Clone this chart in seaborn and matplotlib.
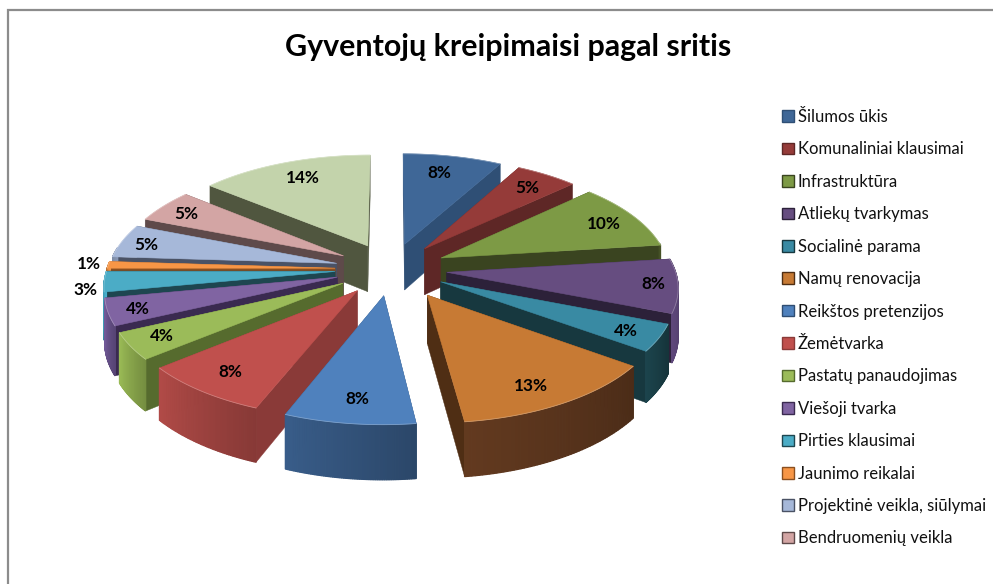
import numpy as np
import matplotlib
matplotlib.use("Agg")
import matplotlib.pyplot as plt
from matplotlib.colors import to_rgb
from matplotlib.patches import Patch
import seaborn as sns

categories = ["Šilumos ūkis", "Komunaliniai klausimai", "Infrastruktūra", "Atliekų tvarkymas",
              "Socialinė parama", "Namų renovacija", "Reikštos pretenzijos", "Žemėtvarka",
              "Pastatų panaudojimas", "Viešoji tvarka", "Pirties klausimai", "Jaunimo reikalai",
              "Projektinė veikla, siūlymai", "Bendruomenių veikla"]
values = [8, 5, 10, 8, 4, 13, 8, 8, 4, 4, 3, 1, 5, 5, 14]
title = "Gyventojų kreipimaisi pagal sritis"

top_colors = ["#3F6797", "#953B39", "#7D9A45", "#664D80", "#398AA3", "#C77A34", "#4F81BD",
              "#C0504D", "#9BBB59", "#8064A2", "#4BACC6", "#F79646", "#A6B8D9", "#D3A5A4", "#C3D3AB"]
radial_colors = ["#2F4F75", "#5E2726", "#3A4420", "#2C2139", "#17383F", "#4F2E14", "#2F4D72",
                 "#8A3A38", "#566B2E", "#3A2A50", "#1E4650", "#8B4F1F", "#4A5265", "#5E4A4A", "#50563F"]
outer_colors = ["#2F4F75", "#5E2726", "#3A4420", "#4E3B66", "#17383F", "#52301A", "#2F4D72",
                "#933E3B", "#7F9A46", "#5E4A7E", "#3C93AB", "#C97A38", "#8796B3", "#AD8887", "#A0AE8C"]

sns.set_theme(style="white")
plt.rcParams["font.family"] = ["Lato", "DejaVu Sans"]

cx, cy = 391, 269   # pie centre
R = 228             # radius
expl = 56           # explosion
tilt = 0.468
persp = 0.00052
depth = 47
# the orange slice sits a bit further out than the others
slice_shift = {5: (7, 3)}
label_r = [0.62, 0.62, 0.72, 0.88, 0.88, 0.62, 0.62, 0.62, 0.82, 0.85, 1.12, 1.12, 0.85, 0.85, 0.62]
label_shift = [(4, -15), (24, -13), (23, -3), (3, 0), (-6, 0), (23, 27), (-6, 28), (-34, 22),
               (-9, 2), (-6, 2), (9, 7), (8, 0), (-8, 1), (-3, 1), (-11, -15)]


def proj(x, y):
    s = 1 / (1 + persp * y)
    return cx + x * s, cy - y * tilt * s, s


fig = plt.figure(figsize=(9.93, 5.84), dpi=100)
ax = fig.add_axes([0, 0, 1, 1])
ax.set_xlim(0, 993)
ax.set_ylim(584, 0)
ax.axis("off")

# frame of the screenshot, only top and left
ax.plot([7.5, 7.5, 993], [584, 10, 10], color="#8C8C8C", lw=1.6, solid_joinstyle="miter")

frac = np.cumsum([0] + values) / sum(values) * 2 * np.pi
mids = (frac[:-1] + frac[1:]) / 2
order = np.argsort(-np.cos(mids))

for z, i in enumerate(order):
    a0, a1 = frac[i], frac[i + 1]
    ox, oy = expl * np.sin(mids[i]), expl * np.cos(mids[i])
    th = np.linspace(a0, a1, 60)
    xs, ys, ss = proj(ox + R * np.sin(th), oy + R * np.cos(th))
    ap_x, ap_y, ap_s = proj(ox, oy)
    dx, dy = slice_shift.get(i, (0, 0))
    xs, ys, ap_x, ap_y = xs + dx, ys + dy, ap_x + dx, ap_y + dy

    # the two cut faces
    for k in (0, -1):
        ax.fill([ap_x, xs[k], xs[k], ap_x], [ap_y, ys[k], ys[k] + depth * ss[k], ap_y + depth * ap_s],
                color=radial_colors[i], lw=0.3, zorder=z * 3 + 1)
    # the rim, in strips so that it can lighten along the arc
    base = np.array(to_rgb(outer_colors[i]))
    for j in range(len(th) - 1):
        if np.cos(th[j]) > 0.15:
            continue
        t = j / (len(th) - 2)
        c = np.clip(base * (0.92 + 0.28 * t), 0, 1)
        ax.fill([xs[j], xs[j + 1], xs[j + 1], xs[j]],
                [ys[j], ys[j + 1], ys[j + 1] + depth * ss[j + 1], ys[j] + depth * ss[j]],
                color=c, lw=0.9, zorder=z * 3 + 2)
    # top
    ax.fill(np.r_[ap_x, xs], np.r_[ap_y, ys], color=top_colors[i], lw=0.4, zorder=z * 3 + 3)
    rim = np.array(to_rgb(top_colors[i])) * 0.6 + 0.4
    ax.plot(xs, ys, color=rim, lw=0.6, alpha=0.7, zorder=z * 3 + 3)

    lx, ly, _ = proj(ox + label_r[i] * R * np.sin(mids[i]), oy + label_r[i] * R * np.cos(mids[i]))
    ax.text(lx + dx + label_shift[i][0], ly + dy + label_shift[i][1], f"{values[i]}%",
            ha="center", va="center", fontsize=12.3, fontweight="bold", color="black", zorder=200)

ax.text(508, 47, title, ha="center", va="center", fontsize=21.9, fontweight="bold", color="black")

handles = [Patch(facecolor=top_colors[i], edgecolor=radial_colors[i], lw=1) for i in range(len(categories))]
ax.legend(handles, categories, loc="upper left", bbox_to_anchor=(782, 109), bbox_transform=ax.transData,
          frameon=False, fontsize=12, labelspacing=0.985, handlelength=0.69, handleheight=0.69,
          handletextpad=0.24, labelcolor="#111111", borderpad=0, borderaxespad=0)

fig.savefig("out.png", dpi=100)
